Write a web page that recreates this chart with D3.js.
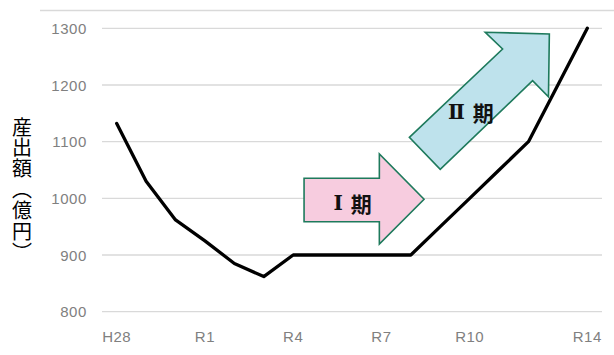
<!DOCTYPE html>
<html><head><meta charset="utf-8">
<script src="https://cdn.jsdelivr.net/npm/d3@7"></script>
<style>
html,body{margin:0;padding:0;background:#fff;}
#wrap{position:relative;width:614px;height:355px;}
svg{display:block;position:absolute;left:0;top:0;}
#ytitle{position:absolute;left:11.5px;top:117px;writing-mode:vertical-rl;text-orientation:mixed;
  font-family:'Noto Sans CJK JP',sans-serif;font-size:20px;line-height:20px;letter-spacing:0.9px;
  color:#000;text-spacing-trim:space-all;white-space:nowrap;}
</style></head>
<body>
<div id="wrap">
<svg id="chart" width="614" height="355"></svg>
<div id="ytitle"></div>
</div>
<script>
const categories = ["H28","H29","H30","R1","R2","R3","R4","R5","R6","R7","R8","R9","R10","R11","R12","R13","R14"];
const values = [1132,1030,962,925,885,862,900,900,900,900,900,950,1000,1050,1100,1200,1300];
const xTickLabels = ["H28","R1","R4","R7","R10","R14"];
const yTicks = [800,900,1000,1100,1200,1300];
const yTitle = "産出額（億円）";
// annotation arrows in data space: [category index, value]
const arrow1 = [[6.37,1035.4],[8.93,1035.4],[8.93,1078.2],[10.45,998.3],[8.93,919.4],[8.93,958.8],[6.37,958.8]];
const arrow2 = [[9.95,1107.7],[13.12,1263.5],[12.53,1293],[14.71,1290],[14.68,1179.3],[14.14,1207.6],[11.0,1051.2]];
const labels = [{num:"Ⅰ", word:"期", at:[8.02,992.6]}, {num:"Ⅱ", word:"期", at:[12.04,1151.5]}];

const svg = d3.select("#chart");
const x = d3.scaleBand().domain(categories).range([102,602]).padding(0);
const y = d3.scaleLinear().domain([800,1300]).range([311.7,28.3]);
const xi = d3.scaleLinear().domain([0,categories.length-1])
  .range([x(categories[0])+x.bandwidth()/2, x(categories[categories.length-1])+x.bandwidth()/2]);

// top border
svg.append("line").attr("x1",40).attr("x2",614).attr("y1",10.5).attr("y2",10.5)
  .attr("stroke","#d9d9d9").attr("stroke-width",1.3);

// gridlines
svg.append("g").selectAll("line").data(yTicks).join("line")
  .attr("x1",102).attr("x2",602)
  .attr("y1",d=>y(d)).attr("y2",d=>y(d))
  .attr("stroke","#d9d9d9").attr("stroke-width",1.3);

// y axis labels
const yAxis = d3.axisLeft(y).tickValues(yTicks).tickSize(0).tickPadding(0).tickFormat(d3.format("d"));
const gy = svg.append("g").attr("transform","translate(87,0)").call(yAxis);
gy.select(".domain").remove();
gy.selectAll("text").attr("font-family","'Liberation Sans',Arial,sans-serif")
  .attr("font-size",15).attr("fill","#808080").attr("letter-spacing",0.6).attr("dy","0.35em");

// x axis labels
const xAxis = d3.axisBottom(x).tickValues(xTickLabels).tickSize(0).tickPadding(0);
const gx = svg.append("g").attr("transform","translate(0,337)").call(xAxis);
gx.select(".domain").remove();
gx.selectAll("text").attr("font-family","'Liberation Sans',Arial,sans-serif")
  .attr("font-size",15).attr("fill","#808080").attr("letter-spacing",0.5).attr("dy","0.35em");

// line
const line = d3.line().x((d,i)=>x(categories[i])+x.bandwidth()/2).y(d=>y(d));
svg.append("path").datum(values).attr("d",line)
  .attr("fill","none").attr("stroke","#000").attr("stroke-width",3.3)
  .attr("stroke-linejoin","round").attr("stroke-linecap","round");

// arrows
const poly = pts => "M" + pts.map(p=>[xi(p[0]),y(p[1])].join(",")).join("L") + "Z";
svg.append("path").attr("d",poly(arrow1)).attr("fill","#F7CCDF").attr("stroke","#1E7A5C").attr("stroke-width",1.6).attr("stroke-linejoin","miter");
svg.append("path").attr("d",poly(arrow2)).attr("fill","#BEE2EC").attr("stroke","#1E7A5C").attr("stroke-width",1.6).attr("stroke-linejoin","miter");

const lt = svg.append("g").selectAll("text").data(labels).join("text")
  .attr("x",d=>xi(d.at[0])).attr("y",d=>y(d.at[1]))
  .attr("text-anchor","middle").attr("dominant-baseline","central")
  .attr("font-size",21).attr("fill","#111").attr("font-weight","bold");
lt.append("tspan").attr("font-family","'DejaVu Serif',serif").attr("font-size",20).text(d=>d.num);
lt.append("tspan").attr("font-family","'Noto Sans CJK JP',sans-serif").attr("dx",3).text(d=>" " + d.word);

// y title (vertical Japanese text)
d3.select("#ytitle").text(yTitle);
</script>
</body></html>
